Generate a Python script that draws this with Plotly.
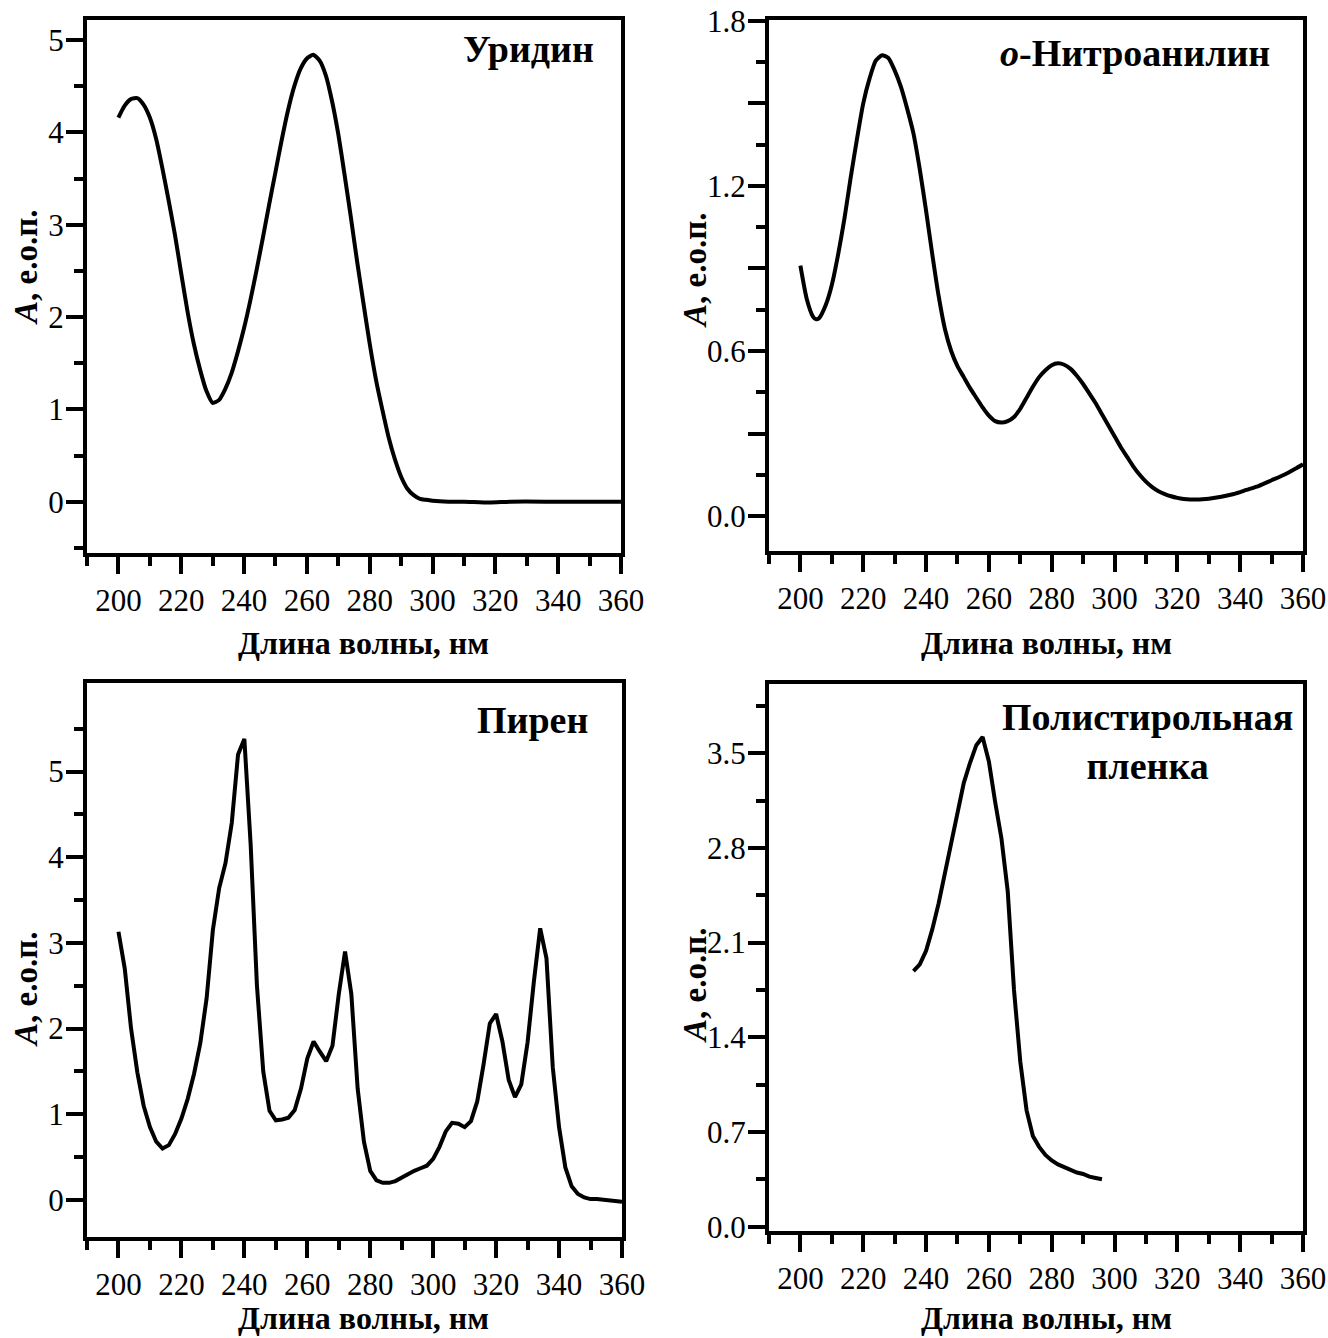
import plotly.graph_objects as go

# ---------------- spectra (wavelength in nm, absorbance in o.d.u.) ----------------
wl_uridine = [200, 202, 204, 206, 208, 210, 212, 214, 216, 218, 220, 222, 224, 226, 228,
              230, 232, 234, 236, 238, 240, 242, 244, 246, 248, 250, 252, 254, 256, 258,
              260, 262, 264, 266, 268, 270, 272, 274, 276, 278, 280, 282, 284, 286, 288,
              290, 292, 294, 296, 298, 300, 305, 310, 318, 325, 340, 360]
a_uridine = [4.16, 4.29, 4.36, 4.37, 4.30, 4.16, 3.93, 3.61, 3.26, 2.89, 2.47, 2.06, 1.71, 1.43, 1.20,
             1.07, 1.10, 1.22, 1.39, 1.62, 1.88, 2.18, 2.51, 2.86, 3.22, 3.57, 3.92, 4.24, 4.50, 4.69,
             4.80, 4.84, 4.78, 4.62, 4.34, 3.98, 3.54, 3.08, 2.60, 2.15, 1.71, 1.32, 1.00, 0.70, 0.46,
             0.27, 0.14, 0.07, 0.03, 0.02, 0.01, 0.0, 0.0, -0.01, 0.0, 0.0, 0.0]

wl_nitro = [200, 202, 204, 205, 206, 208, 210, 212, 214, 216, 218, 220, 222, 224, 226, 228,
            230, 232, 234, 236, 238, 240, 242, 244, 246, 248, 250, 252, 254, 256, 258, 260,
            262, 264, 266, 268, 270, 272, 274, 276, 278, 280, 282, 284, 286, 288, 290, 292,
            294, 296, 298, 300, 302, 304, 306, 308, 310, 312, 314, 316, 318, 320, 322, 324,
            326, 328, 330, 334, 338, 342, 346, 350, 354, 358, 360]
a_nitro = [0.91, 0.79, 0.725, 0.715, 0.72, 0.765, 0.84, 0.95, 1.08, 1.23, 1.37, 1.50, 1.59, 1.655, 1.675, 1.665,
           1.62, 1.56, 1.48, 1.39, 1.26, 1.11, 0.95, 0.80, 0.68, 0.60, 0.545, 0.505, 0.465, 0.43, 0.395, 0.365,
           0.345, 0.34, 0.345, 0.36, 0.39, 0.43, 0.47, 0.505, 0.53, 0.548, 0.555, 0.55, 0.535, 0.51, 0.48, 0.445,
           0.41, 0.37, 0.33, 0.29, 0.25, 0.215, 0.18, 0.15, 0.125, 0.105, 0.09, 0.08, 0.072, 0.066, 0.062, 0.060,
           0.060, 0.061, 0.063, 0.07, 0.08, 0.095, 0.11, 0.13, 0.15, 0.175, 0.188]

wl_pyrene = list(range(200, 362, 2))
a_pyrene = [3.13, 2.70, 2.00, 1.49, 1.10, 0.85, 0.68, 0.60, 0.64, 0.77, 0.95, 1.18, 1.47, 1.83, 2.35,
            3.15, 3.64, 3.93, 4.40, 5.20, 5.38, 4.15, 2.50, 1.50, 1.04, 0.93, 0.94, 0.96, 1.05, 1.30,
            1.65, 1.85, 1.73, 1.62, 1.80, 2.40, 2.90, 2.40, 1.30, 0.68, 0.34, 0.23, 0.20, 0.20, 0.22,
            0.26, 0.31, 0.34, 0.37, 0.40, 0.48, 0.62, 0.80, 0.90, 0.89, 0.85, 0.92, 1.15, 1.58, 2.06,
            2.17, 1.85, 1.40, 1.20, 1.35, 1.84, 2.55, 3.17, 2.82, 1.55, 0.85, 0.38, 0.16, 0.07, 0.03,
            0.01, 0.01, 0.0, -0.01, -0.02, -0.02]

wl_polystyrene = [236, 238, 240, 242, 244, 246, 248, 250, 252, 254, 256, 258, 260, 262, 264, 266,
                  268, 270, 272, 274, 276, 278, 280, 282, 284, 286, 288, 290, 292, 294, 296]
a_polystyrene = [1.89, 1.94, 2.04, 2.20, 2.39, 2.61, 2.84, 3.06, 3.28, 3.43, 3.56, 3.62, 3.44, 3.14, 2.87, 2.48,
                 1.75, 1.22, 0.86, 0.67, 0.59, 0.53, 0.49, 0.46, 0.44, 0.42, 0.40, 0.39, 0.37, 0.36, 0.35]

panel_titles = ["<b>Уридин</b>", "<b><i>o</i>-Нитроанилин</b>", "<b>Пирен</b>",
                "<b>Полистирольная<br>пленка</b>"]
x_title = "<b>Длина волны, нм</b>"
y_title = "<b><i>A</i>, е.о.п.</b>"

# ---------------- page geometry ----------------
W, H = 1328, 1338
FONT = "Times New Roman, Liberation Serif, serif"


def fx(px):
    return px / W


def fy(py):
    return 1 - py / H


fig = go.Figure()

series = [
    (wl_uridine, a_uridine, "spline"),
    (wl_nitro, a_nitro, "spline"),
    (wl_pyrene, a_pyrene, "linear"),
    (wl_polystyrene, a_polystyrene, "linear"),
]
for i, (xs, ys, shape) in enumerate(series, start=1):
    sfx = "" if i == 1 else str(i)
    fig.add_trace(go.Scatter(
        x=xs, y=ys, mode="lines",
        line=dict(color="black", width=4, shape=shape, smoothing=0.6),
        xaxis="x" + sfx, yaxis="y" + sfx, showlegend=False, hoverinfo="skip",
    ))

# plot boxes in pixels: (left, right, top, bottom)
boxes = [
    (87, 621, 20, 553),
    (769, 1303, 20, 551),
    (87, 622, 683, 1237),
    (769, 1303, 683.5, 1231),
]
y_ranges = [[-0.556, 5.217], [-0.127, 1.803], [-0.432, 6.033], [-0.032, 4.016]]

tickfont = dict(family=FONT, size=31, color="black")
base_axis = dict(
    showline=True, linecolor="black", linewidth=4, mirror=True,
    ticks="outside", ticklen=17, tickwidth=4, tickcolor="black",
    showgrid=False, zeroline=False, tickfont=tickfont, fixedrange=True,
)

y_ticks = [
    dict(tickmode="linear", tick0=0, dtick=1,
         minor=dict(tickmode="linear", tick0=0, dtick=0.5)),
    dict(tickmode="array", tickvals=[0, 0.3, 0.6, 0.9, 1.2, 1.5, 1.8],
         ticktext=["0.0", "", "0.6", "", "1.2", "", "1.8"],
         minor=dict(tickmode="linear", tick0=0, dtick=0.15)),
    dict(tickmode="array", tickvals=[0, 1, 2, 3, 4, 5],
         ticktext=["0", "1", "2", "3", "4", "5"],
         minor=dict(tickmode="array", tickvals=[0.5, 1.5, 2.5, 3.5, 4.5, 5.5])),
    dict(tickmode="array", tickvals=[0, 0.7, 1.4, 2.1, 2.8, 3.5],
         ticktext=["0.0", "0.7", "1.4", "2.1", "2.8", "3.5"],
         minor=dict(tickmode="array", tickvals=[0.35, 1.05, 1.75, 2.45, 3.15, 3.85])),
]

layout = dict(
    width=W, height=H, margin=dict(l=0, r=0, t=0, b=0, autoexpand=False),
    paper_bgcolor="white", plot_bgcolor="white",
    font=dict(family=FONT, color="black"),
)
for i, (l, r, t, b) in enumerate(boxes, start=1):
    sfx = "" if i == 1 else str(i)
    xa = dict(base_axis)
    xa.update(domain=[fx(l), fx(r)], range=[190, 360], anchor="y" + sfx,
              tickmode="linear", tick0=200, dtick=20,
              minor=dict(ticks="outside", ticklen=9, tickwidth=4, tickcolor="black",
                         tickmode="linear", tick0=190, dtick=10, showgrid=False))
    ya = dict(base_axis)
    yt = dict(y_ticks[i - 1])
    minor = dict(yt.pop("minor"))
    minor.update(ticks="outside", ticklen=9, tickwidth=4, tickcolor="black", showgrid=False)
    ya.update(domain=[fy(b), fy(t)], range=y_ranges[i - 1], anchor="x" + sfx, minor=minor,
              ticklabelstandoff=-4, **yt)
    layout["xaxis" + sfx] = xa
    layout["yaxis" + sfx] = ya

annotations = []
# axis titles
for cx, cy in [(363, 643), (1046, 643), (363, 1318), (1046, 1318)]:
    annotations.append(dict(text=x_title, x=fx(cx), y=fy(cy), xref="paper", yref="paper",
                            showarrow=False, xanchor="center", yanchor="middle",
                            font=dict(family=FONT, size=32, color="black")))
for cx, cy in [(26, 268), (695, 271), (26, 990), (695, 986)]:
    annotations.append(dict(text=y_title, x=fx(cx), y=fy(cy), xref="paper", yref="paper",
                            showarrow=False, xanchor="center", yanchor="middle", textangle=-90,
                            font=dict(family=FONT, size=33, color="black")))
# compound names
for text, cx, cy in zip(panel_titles, [528, 1135, 532, 1147], [49, 53, 720, 741]):
    annotations.append(dict(text=text, x=fx(cx), y=fy(cy), xref="paper", yref="paper",
                            showarrow=False, xanchor="center", yanchor="middle", align="center",
                            font=dict(family=FONT, size=38, color="black")))
layout["annotations"] = annotations

fig.update_layout(**layout)
fig.write_html("out.html")
